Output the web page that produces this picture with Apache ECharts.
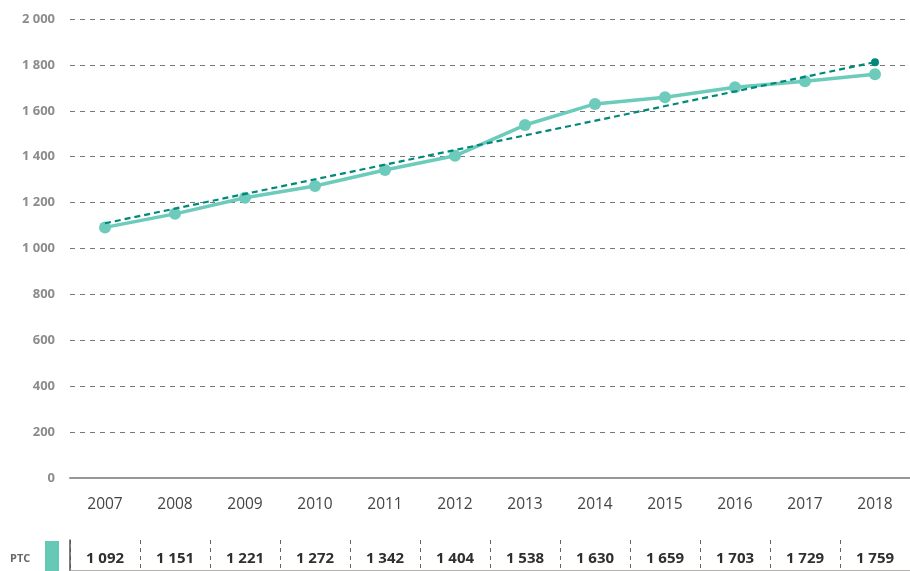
<!DOCTYPE html>
<html>
<head>
<meta charset="utf-8">
<script src="https://cdn.jsdelivr.net/npm/echarts@6/dist/echarts.min.js"></script>
<style>
  html, body { margin: 0; padding: 0; background: #fff; }
  #chart { width: 910px; height: 571px; }
</style>
</head>
<body>
<div id="chart"></div>
<script>
// Yearly PTC values with a linear trend line
const years = ['2007', '2008', '2009', '2010', '2011', '2012', '2013', '2014', '2015', '2016', '2017', '2018'];
const ptc = [1092, 1151, 1221, 1272, 1342, 1404, 1538, 1630, 1659, 1703, 1729, 1759];
const trendStart = 1110;
const trendEnd = 1812;
const seriesName = 'PTC';

const FONT = '"Open Sans", "Noto Sans", sans-serif';

// Thousands separated by a space: 1092 -> "1 092"
function spaced(v) {
  const n = Math.round(v);
  if (n < 1000) return String(n);
  const s = String(n);
  return s.slice(0, s.length - 3) + ' ' + s.slice(s.length - 3);
}

const trendData = years.map((y, i) => {
  if (i === 0) return trendStart;
  if (i === years.length - 1) return trendEnd;
  return null;
});

const chart = echarts.init(document.getElementById('chart'));
chart.setOption({
  animation: false,
  textStyle: { fontFamily: FONT },
  grid: [
    { left: 70, top: 19, width: 846, height: 459 },
    { left: 70, top: 540, width: 846, height: 40 }
  ],
  xAxis: [
    {
      type: 'category',
      gridIndex: 0,
      data: years,
      boundaryGap: true,
      axisLine: { show: true, lineStyle: { color: '#9a9696', width: 2 } },
      axisTick: { show: false },
      axisLabel: { color: '#444', fontSize: 15.5, margin: 19, fontFamily: FONT },
      splitLine: { show: false }
    },
    {
      type: 'category',
      gridIndex: 1,
      data: years,
      position: 'top',
      boundaryGap: true,
      axisLine: { show: true, lineStyle: { color: '#9a9696', width: 1.5 } },
      axisTick: { show: false },
      axisLabel: {
        inside: true,
        margin: 11,
        color: '#2f2f2f',
        fontSize: 15,
        fontWeight: 'bold',
        fontFamily: FONT,
        formatter: (v, i) => spaced(ptc[i])
      },
      splitLine: { show: true, lineStyle: { color: '#666', type: [4, 4], width: 1 } }
    }
  ],
  yAxis: [
    {
      type: 'value',
      gridIndex: 0,
      min: 0,
      max: 2000,
      interval: 200,
      axisLine: { show: false },
      axisTick: { show: false },
      axisLabel: {
        color: '#8c8c8c',
        fontSize: 13,
        fontWeight: 'bold',
        margin: 15,
        fontFamily: FONT,
        formatter: spaced
      },
      splitLine: { show: true, lineStyle: { color: '#777', type: [5, 5], width: 1 } }
    },
    {
      type: 'value',
      gridIndex: 1,
      min: 0,
      max: 1,
      axisLine: { show: true, lineStyle: { color: '#555', width: 1.5 } },
      axisTick: { show: false },
      axisLabel: { show: false },
      splitLine: { show: false }
    }
  ],
  graphic: [
    {
      type: 'text',
      left: 10,
      top: 553,
      style: { text: seriesName, fill: '#666', font: 'bold 11px ' + FONT }
    },
    {
      type: 'rect',
      shape: { x: 45, y: 541, width: 14, height: 32 },
      style: { fill: '#66c9b8' }
    }
  ],
  series: [
    {
      name: seriesName,
      type: 'line',
      xAxisIndex: 0,
      yAxisIndex: 0,
      data: ptc,
      symbol: 'circle',
      symbolSize: 12,
      lineStyle: { color: '#6ccbbb', width: 3.5 },
      itemStyle: { color: '#6ccbbb' },
      z: 2
    },
    {
      name: 'trend',
      type: 'line',
      xAxisIndex: 0,
      yAxisIndex: 0,
      data: trendData,
      connectNulls: true,
      symbol: (v, p) => (p.dataIndex === years.length - 1 ? 'circle' : 'none'),
      symbolSize: 8,
      showAllSymbol: true,
      lineStyle: { color: '#00887a', width: 2.2, type: [6, 4] },
      itemStyle: { color: '#00887a' },
      z: 3
    }
  ]
});
</script>
</body>
</html>
